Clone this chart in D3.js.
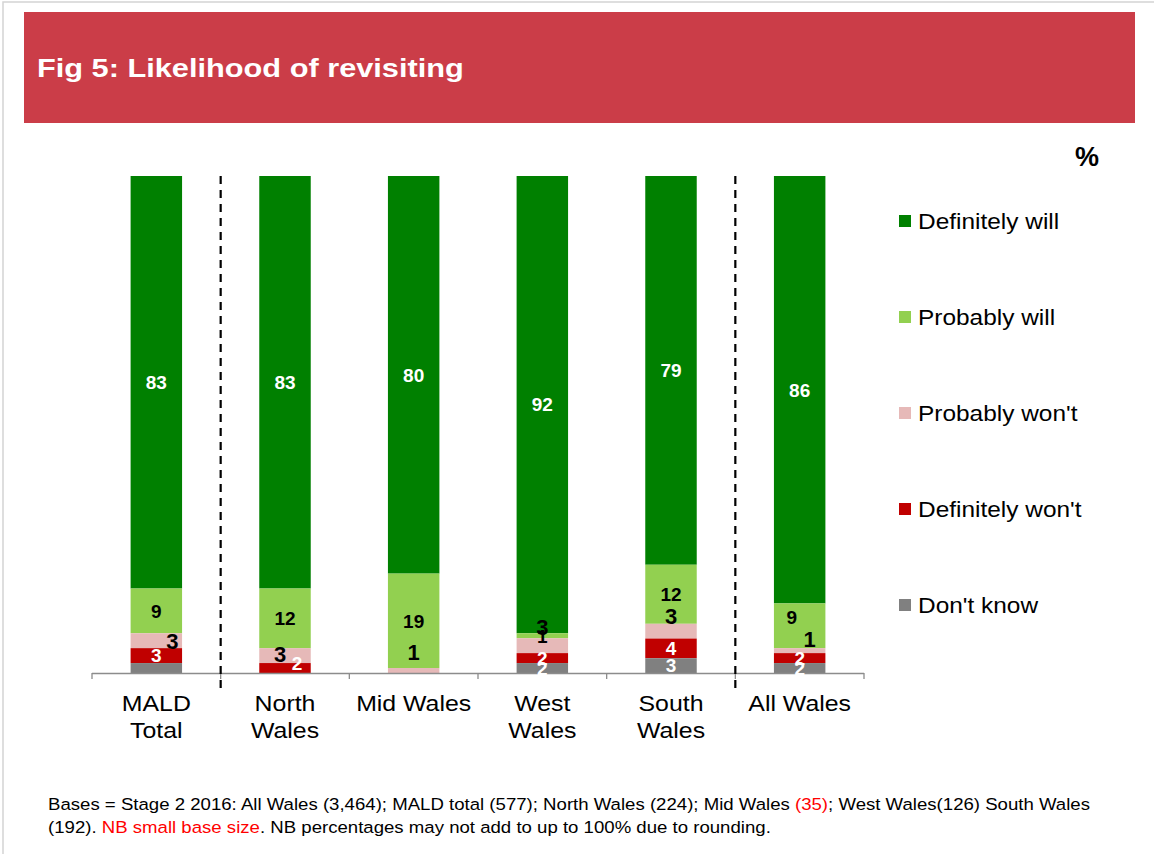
<!DOCTYPE html>
<html><head><meta charset="utf-8">
<script src="https://cdn.jsdelivr.net/npm/d3@7"></script>
<style>
html,body{margin:0;padding:0;background:#fff;}
svg{display:block;font-family:"Liberation Sans",Arial,sans-serif;}
</style></head>
<body>
<svg id="chart" width="1154" height="854"></svg>
<script>
// ---- data ----
const categories = ["MALD Total","North Wales","Mid Wales","West Wales","South Wales","All Wales"];
const categoryLines = [["MALD","Total"],["North","Wales"],["Mid Wales"],["West","Wales"],["South","Wales"],["All Wales"]];
const seriesNames = ["Definitely will","Probably will","Probably won't","Definitely won't","Don't know"];
const definitelyWill  = [83, 83, 80, 92, 79, 86];
const probablyWill    = [9, 12, 19, 1, 12, 9];
const probablyWont    = [3, 3, 1, 3, 3, 1];
const definitelyWont  = [3, 2, 0, 2, 4, 2];
const dontKnow        = [2, 0, 0, 2, 3, 2];
const seriesValues = [definitelyWill, probablyWill, probablyWont, definitelyWont, dontKnow];
const seriesColors = ["#008000","#92D050","#E6B9B8","#C00000","#808080"];
const footnote1 = ["Bases = Stage 2 2016: All Wales (3,464); MALD total (577); North Wales (224); Mid Wales ", "(35)", "; West Wales(126) South Wales"];
const footnote2 = ["(192). ", "NB small base size", ". NB percentages may not add to up to 100% due to rounding."];

// label styling (offsets from segment centre; null = hidden)
const labelStyle = {
  "Definitely will":  {fill:"#fff", size:19},
  "Probably will":    {fill:"#000", size:19},
  "Probably won't":   {fill:"#000", size:22},
  "Definitely won't": {fill:"#fff", size:19},
  "Don't know":       {fill:"#fff", size:19}
};
const labelOffsets = {
  "MALD Total":  {"Probably won't":[16,0], "Don't know":null},
  "North Wales": {"Probably won't":[-5,-2], "Definitely won't":[12,-5]},
  "Mid Wales":   {"Probably won't":[0,-18]},
  "West Wales":  {"Probably won't":[0,-19]},
  "South Wales": {"Probably won't":[0,-15]},
  "All Wales":   {"Probably will":[-8,-9], "Probably won't":[10,-12]}
};

// ---- drawing ----
const svg = d3.select("#chart");
const W = 1154, H = 854;

// text with horizontal stretch (reference glyphs are wider than tall)
function stretched(parent, x, y, sx, size){
  return parent.append("g").attr("transform",`translate(${x},${y}) scale(${sx},1)`)
    .append("text").attr("x",0).attr("y",0).attr("font-size",size);
}

// frame
svg.append("rect").attr("x",3).attr("y",2).attr("width",W+10).attr("height",H+10)
  .attr("fill","none").attr("stroke","#d4d4d4").attr("stroke-width",1.5);

// header
svg.append("rect").attr("x",24).attr("y",12).attr("width",1111).attr("height",111).attr("fill","#CB3D48");
stretched(svg,37,77,1.16,26.5).attr("fill","#fff").attr("font-weight","bold").text("Fig 5: Likelihood of revisiting");

stretched(svg,1099,166,1.0,27).attr("text-anchor","end").attr("font-weight","bold").text("%");

const rows = categories.map((c,i)=>{
  const o = {category:c};
  seriesNames.forEach((s,j)=>o[s]=seriesValues[j][i]);
  return o;
});

const x = d3.scaleBand().domain(categories).range([92,864]).paddingInner(0.6).paddingOuter(0.3);
const y = d3.scaleLinear().domain([0,1]).range([673,176]);
const color = d3.scaleOrdinal().domain(seriesNames).range(seriesColors);

const stack = d3.stack().keys(seriesNames).order(d3.stackOrderReverse).offset(d3.stackOffsetExpand);
const stacked = stack(rows);

const g = svg.append("g");
const layers = g.selectAll("g.layer").data(stacked).join("g").attr("class","layer")
  .attr("fill", d=>color(d.key));
layers.selectAll("rect").data(d=>d.map(p=>({key:d.key,p}))).join("rect")
  .attr("x", d=>x(d.p.data.category))
  .attr("width", x.bandwidth())
  .attr("y", d=>y(d.p[1]))
  .attr("height", d=>Math.max(0, y(d.p[0])-y(d.p[1])));

// axis
const axisY = y(0);
const step = x.step();
const x0 = x.range()[0];
const axisG = svg.append("g").attr("transform",`translate(0,${axisY})`)
  .call(d3.axisBottom(x).tickSize(0).tickFormat(""));
axisG.select(".domain").attr("stroke","#8c8c8c").attr("stroke-width",1.3)
  .attr("d",`M${x0},0.5H${x.range()[1]}`);
const boundaries = d3.range(categories.length+1).map(i=>x(categories[Math.min(i,categories.length-1)]) - x.paddingInner()*step/2 + (i===categories.length? step:0));
axisG.selectAll("line.tk").data(boundaries).join("line").attr("class","tk")
  .attr("x1",d=>d).attr("x2",d=>d).attr("y1",0).attr("y2",6)
  .attr("stroke","#8c8c8c").attr("stroke-width",1.3);

// category labels
const catG = svg.append("g");
categories.forEach((c,i)=>{
  const cx = x(c)+x.bandwidth()/2;
  categoryLines[i].forEach((ln,k)=>{
    stretched(catG, cx, 711 + k*27, 1.105, 22.5).attr("text-anchor","middle").attr("fill","#000").text(ln);
  });
});

// dashed separators
[boundaries[1], boundaries[5]].forEach(bx=>{
  svg.append("line").attr("x1",bx).attr("x2",bx).attr("y1",176).attr("y2",690)
    .attr("stroke","#000").attr("stroke-width",2.2).attr("stroke-dasharray","8,6");
});

// value labels
const labelData = [];
stacked.forEach(layer=>{
  layer.forEach((p,i)=>{
    const cat = p.data.category, key = layer.key, v = p.data[key];
    if (!v) return;
    const off = (labelOffsets[cat]||{})[key];
    if (off === null) return;
    const [dx,dy] = off || [0,0];
    labelData.push({key,v,cx:x(cat)+x.bandwidth()/2+dx, cy:(y(p[0])+y(p[1]))/2+dy});
  });
});
svg.append("g").selectAll("text").data(labelData).join("text")
  .attr("x",d=>d.cx).attr("y",d=>d.cy).attr("dy","0.36em")
  .attr("text-anchor","middle").attr("font-weight","bold")
  .attr("font-size",d=>labelStyle[d.key].size).attr("fill",d=>labelStyle[d.key].fill)
  .text(d=>d.v);

// legend
const leg = svg.append("g");
seriesNames.forEach((s,i)=>{
  const cy = 221 + i*96;
  leg.append("rect").attr("x",899).attr("y",cy-6).attr("width",12).attr("height",12).attr("fill",color(s));
  stretched(leg, 918, cy+7.7, 1.137, 21.5).attr("fill","#000").text(s);
});

// footnote
const f1 = stretched(svg,48,810,1.128,16.5).attr("fill","#000");
footnote1.forEach((t,i)=>f1.append("tspan").attr("fill", i===1?"#FF0000":"#000").text(t));
const f2 = stretched(svg,48,833,1.128,16.5).attr("fill","#000");
footnote2.forEach((t,i)=>f2.append("tspan").attr("fill", i===1?"#FF0000":"#000").text(t));
</script>
</body></html>
